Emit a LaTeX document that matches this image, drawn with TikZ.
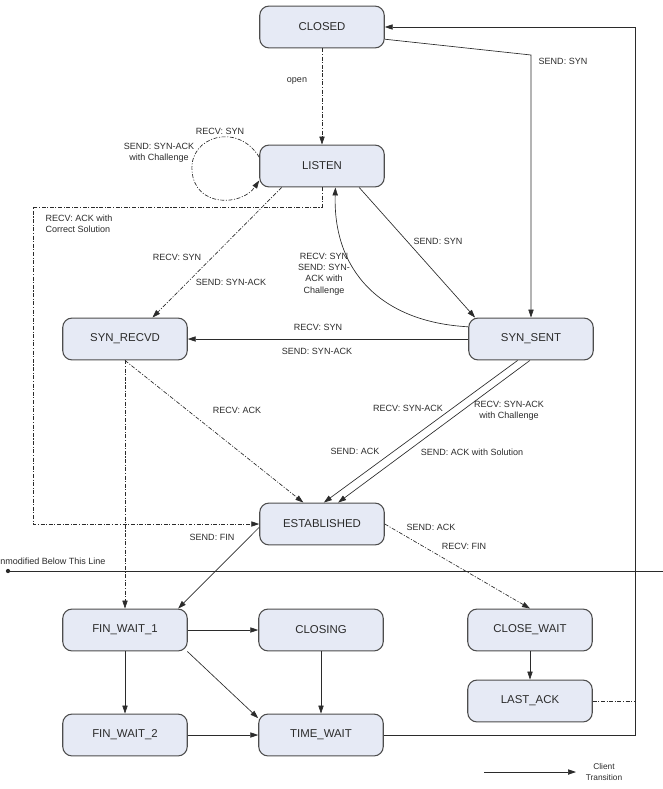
\documentclass[tikz,border=0pt]{standalone}
\usepackage{fontspec}
\setmainfont{Liberation Sans}
\usepackage{tikz}
\usetikzlibrary{arrows.meta}
\definecolor{statefill}{HTML}{E6EAF5}
\definecolor{stateline}{HTML}{4D4D4D}
\definecolor{inkgray}{HTML}{2B2B2B}

\begin{document}
\begin{tikzpicture}[
  x=0.0265cm, y=-0.0265cm,
  state/.style={
    draw=stateline, line width=0.8pt, rounded corners=7pt, fill=statefill,
    minimum width=3.3cm, minimum height=1.11cm, inner sep=0pt,
    font=\fontsize{8.6}{10}\selectfont, text=inkgray
  },
  arrow/.style={-{Triangle[length=6pt,width=4pt]}, line width=0.5pt, inkgray},
  dashdot/.style={dash pattern=on 3pt off 1.2pt on 0.8pt off 1.2pt},
  edgelabel/.style={font=\fontsize{6.8}{8.6}\selectfont, text=inkgray, align=center, inner sep=0pt}
]
\useasboundingbox (0,0) rectangle (663,789);

\node[state] (closed) at (322,27) {CLOSED};
\node[state] (listen) at (322,166) {LISTEN};
\node[state] (synrecvd) at (125,339) {SYN\_RECVD};
\node[state] (synsent) at (531,339) {SYN\_SENT};
\node[state] (established) at (322,524) {ESTABLISHED};
\node[state] (finwait1) at (125,630) {FIN\_WAIT\_1};
\node[state] (closing) at (321,630) {CLOSING};
\node[state] (closewait) at (530,630) {CLOSE\_WAIT};
\node[state] (lastack) at (530,701) {LAST\_ACK};
\node[state] (finwait2) at (125,735) {FIN\_WAIT\_2};
\node[state] (timewait) at (321,735) {TIME\_WAIT};

\coordinate (synbend) at (531,55);
\coordinate (rightbot) at (635,735);
\coordinate (righttop) at (635,27);
\coordinate (lastackjoin) at (635,701);
\coordinate (listendrop) at (322,207);
\coordinate (leftturn) at (33,207);
\coordinate (leftbot) at (33,524);
\coordinate (loopleft) at (192,171);
\coordinate (divstart) at (8,571);
\coordinate (divend) at (663,571);
\coordinate (keyfrom) at (484,772);
\coordinate (keyto) at (576,772);

\draw[arrow, dashdot] (closed) -- (listen);
\draw[arrow] (closed.-11) -- (synbend) -- (synsent.north);
\draw[arrow] (timewait.east) -- (rightbot) -- (righttop) -- (closed.east);
\draw[dashdot, line width=0.5pt, inkgray] (lastack.east) -- (lastackjoin);
\draw[arrow, dashdot] (listen.172) .. controls (238,122) and (189,136) .. (loopleft)
  .. controls (195,208) and (242,206) .. (listen.-167);
\draw[arrow, dashdot] (listen.south) -- (listendrop) -- (leftturn) -- (leftbot) -- (established.west);
\draw[arrow, dashdot] (listen.-152) -- (synrecvd.38);
\draw[arrow] (listen.-30) -- (synsent.159);
\draw[arrow] (synsent.169) .. controls (380,322) and (333,270) .. (listen.-58);
\draw[arrow] (synsent.west) -- (synrecvd.east);
\draw[arrow, dashdot] (synrecvd.south) -- (established.131);
\draw[arrow, dashdot] (synrecvd.south) -- (finwait1.north);
\draw[arrow] (synsent.-122) -- (established.85);
\draw[arrow] (synsent.-93) -- (established.53);
\draw[arrow] (established.183) -- (finwait1.22);
\draw[arrow, dashdot] (established.east) -- (closewait.north);
\draw[arrow] (finwait1) -- (closing);
\draw[arrow] (finwait1) -- (finwait2);
\draw[arrow] (finwait1.-19) -- (timewait.165);
\draw[arrow] (closing) -- (timewait);
\draw[arrow] (finwait2) -- (timewait);
\draw[arrow] (closewait) -- (lastack);

\node[edgelabel] (openlbl) at (297,81) {open};
\node[edgelabel] (sendsyntop) at (563,61) {SEND: SYN};
\node[edgelabel] (looprecv) at (220,131) {RECV: SYN};
\node[edgelabel] (loopsend) at (159,153) {SEND: SYN-ACK\\with Challenge};
\node[edgelabel, align=left] (solutionlbl) at (79,224) {RECV: ACK with\\Correct Solution};
\node[edgelabel] (recvsynleft) at (177,257) {RECV: SYN};
\node[edgelabel] (sendsynackleft) at (231,282) {SEND: SYN-ACK};
\node[edgelabel] (sendsynmid) at (438,241) {SEND: SYN};
\node[edgelabel] (challengelbl) at (324,274) {RECV: SYN\\SEND: SYN-\\ACK with\\Challenge};
\node[edgelabel] (recvsynmid) at (318,327) {RECV: SYN};
\node[edgelabel] (sendsynackmid) at (317,351) {SEND: SYN-ACK};
\node[edgelabel] (recvack) at (237,410) {RECV: ACK};
\node[edgelabel] (recvsynack) at (408,408) {RECV: SYN-ACK};
\node[edgelabel] (recvsynackch) at (509,411) {RECV: SYN-ACK\\with Challenge};
\node[edgelabel] (sendack) at (355,451) {SEND: ACK};
\node[edgelabel] (sendacksol) at (472,452) {SEND: ACK with Solution};
\node[edgelabel] (sendfin) at (212,537) {SEND: FIN};
\node[edgelabel] (sendackclose) at (431,527) {SEND: ACK};
\node[edgelabel] (recvfin) at (464,546) {RECV: FIN};

% divider
\fill[inkgray] (divstart) circle (1.6pt);
\draw[line width=0.5pt, inkgray] (divstart) -- (divend);
\node[edgelabel, anchor=west] (divtext) at (-6.5,561) {Unmodified Below This Line};

% key
\draw[arrow] (keyfrom) -- (keyto);
\node[edgelabel, font=\fontsize{6.3}{9}\selectfont] (keytext) at (604,772) {Client\\Transition};

\end{tikzpicture}
\end{document}
